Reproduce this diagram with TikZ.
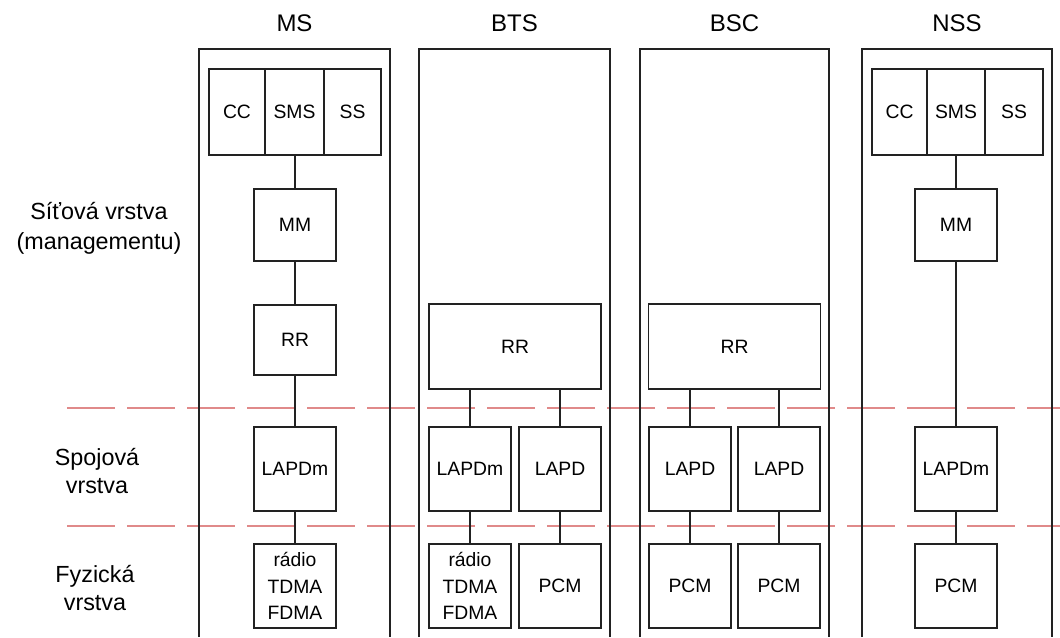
\documentclass[tikz,border=0pt]{standalone}
\usepackage{fontspec}
\setmainfont{Liberation Sans}
\usepackage{xcolor}
\definecolor{layerred}{HTML}{E08A8A}
\definecolor{boxline}{HTML}{222222}

\begin{document}
\begin{tikzpicture}[
  x=0.75pt, y=-0.75pt, line width=1.2pt,
  box/.style={draw=boxline, inner sep=0pt, minimum width=61.5pt,
    minimum height=63pt, align=center,
    font=\fontsize{14.5}{20}\selectfont},
  cell/.style={box, minimum height=64.5pt},
  title/.style={font=\fontsize{18}{21}\selectfont},
  layer/.style={align=center, font=\fontsize{17.5}{21}\selectfont},
  wire/.style={draw=boxline},
  divider/.style={draw=layerred, line width=0.9pt, dash pattern=on 36pt off 9pt}
]
  \useasboundingbox (0,0) rectangle (1060,637);

  % layer borders
  \draw[divider] (67,408) -- (1060,408);
  \draw[divider] (67,526) -- (1060,526);

  % entity frames
  \draw[boxline] (199,637) |- (390,49) -- (390,637);
  \draw[boxline] (419,637) |- (610,49) -- (610,637);
  \draw[boxline] (640,637) |- (829,49) -- (829,637);
  \draw[boxline] (862,637) |- (1052,49) -- (1052,637);

  \node[title] (t-ms)  at (294.5,23) {MS};
  \node[title] (t-bts) at (514.5,23) {BTS};
  \node[title] (t-bsc) at (734.5,23) {BSC};
  \node[title] (t-nss) at (957,23)   {NSS};

  \node[layer, font=\fontsize{17.5}{22.5}\selectfont] (l-net) at (99,228)
    {Síťová vrstva\\(managementu)};
  \node[layer] (l-link) at (97,471) {Spojová\\vrstva};
  \node[layer] (l-phy)  at (95,588) {Fyzická\\vrstva};

  % MS
  \node[cell, minimum width=42pt]   (ms-cc)  at (237,112)   {CC};
  \node[cell, minimum width=44.25pt] (ms-sms) at (294.5,112) {SMS};
  \node[cell, minimum width=42.75pt] (ms-ss)  at (352.5,112) {SS};
  \node[box, minimum height=54pt]   (ms-mm)  at (295,225) {MM};
  \node[box, minimum height=52.5pt] (ms-rr)  at (295,340) {RR};
  \node[box] (ms-lapdm) at (295,469) {LAPDm};
  \node[box] (ms-radio) at (295,586) {rádio\\TDMA\\FDMA};

  \draw[wire] (ms-sms.south) -- (ms-sms.south -| ms-mm.north) -- (ms-mm.north);
  \draw[wire] (ms-mm) -- (ms-rr);
  \draw[wire] (ms-rr) -- (ms-lapdm);
  \draw[wire] (ms-lapdm) -- (ms-radio);

  % BTS
  \node[box, minimum width=129pt, minimum height=63.75pt] (bts-rr) at (515,346.5) {RR};
  \node[box] (bts-lapdm) at (470,469) {LAPDm};
  \node[box] (bts-lapd)  at (560,469) {LAPD};
  \node[box] (bts-radio) at (470,586) {rádio\\TDMA\\FDMA};
  \node[box] (bts-pcm)   at (560,586) {PCM};

  \draw[wire] (bts-lapdm.north) -- (bts-lapdm.north |- bts-rr.south);
  \draw[wire] (bts-lapd.north) -- (bts-lapd.north |- bts-rr.south);
  \draw[wire] (bts-lapdm) -- (bts-radio);
  \draw[wire] (bts-lapd) -- (bts-pcm);

  % BSC
  \node[box, minimum width=129pt, minimum height=63.75pt] (bsc-rr) at (734.5,346.5) {RR};
  \node[box] (bsc-lapd-a) at (690,469) {LAPD};
  \node[box] (bsc-lapd-b) at (779,469) {LAPD};
  \node[box] (bsc-pcm-a)  at (690,586) {PCM};
  \node[box] (bsc-pcm-b)  at (779,586) {PCM};

  \draw[wire] (bsc-lapd-a.north) -- (bsc-lapd-a.north |- bsc-rr.south);
  \draw[wire] (bsc-lapd-b.north) -- (bsc-lapd-b.north |- bsc-rr.south);
  \draw[wire] (bsc-lapd-a) -- (bsc-pcm-a);
  \draw[wire] (bsc-lapd-b) -- (bsc-pcm-b);

  % NSS
  \node[cell, minimum width=41.25pt] (nss-cc)  at (899.5,112) {CC};
  \node[cell, minimum width=43.5pt]  (nss-sms) at (956,112)   {SMS};
  \node[cell, minimum width=43.5pt]  (nss-ss)  at (1014,112)  {SS};
  \node[box, minimum height=54pt] (nss-mm)    at (956,225) {MM};
  \node[box] (nss-lapdm) at (956,469) {LAPDm};
  \node[box] (nss-pcm)   at (956,586) {PCM};

  \draw[wire] (nss-sms) -- (nss-mm);
  \draw[wire] (nss-mm) -- (nss-lapdm);
  \draw[wire] (nss-lapdm) -- (nss-pcm);
\end{tikzpicture}
\end{document}
